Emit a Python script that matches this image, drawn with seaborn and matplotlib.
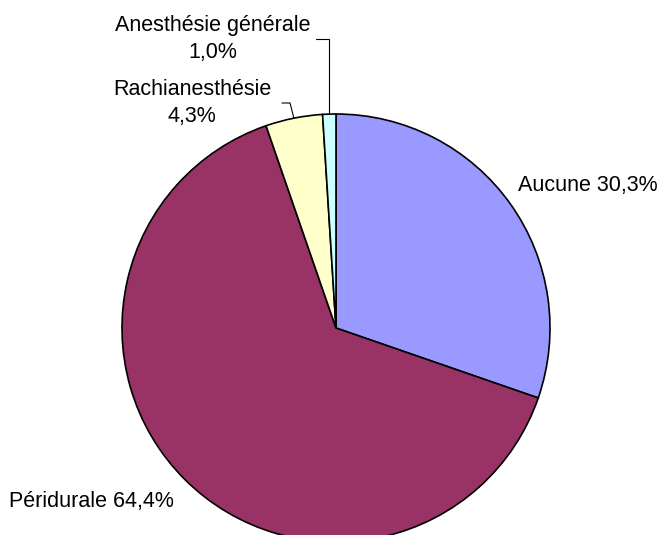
import numpy as np
import matplotlib
matplotlib.use("Agg")
import matplotlib.pyplot as plt
import seaborn as sns

# --- Data ---
categories = ["Aucune", "Péridurale", "Rachianesthésie", "Anesthésie générale"]
shares = [30.3, 64.4, 4.3, 1.0]
colors = ["#9999FF", "#993366", "#FFFFCC", "#CCFFFF"]

W, H = 659, 535
CX, CY, R = 336, H - 328, 214

sns.set_theme(style="white")
plt.rcParams['font.family'] = ['Liberation Sans', 'DejaVu Sans']

fig = plt.figure(figsize=(W / 100, H / 100), dpi=100)
ax = fig.add_axes([0, 0, 1, 1])

ax.pie(shares, colors=colors, startangle=90, counterclock=False,
       center=(CX, CY), radius=R, frame=True,
       wedgeprops=dict(edgecolor='black', linewidth=1.2))
ax.set_xlim(0, W)
ax.set_ylim(0, H)
ax.set_aspect('equal')
ax.axis('off')


def fmt(v):
    return f"{v:.1f}".replace('.', ',') + "%"


def mid_point(i):
    # point on the rim at the middle of wedge i (clockwise from top)
    cum = np.cumsum([0] + shares)
    frac = (cum[i] + cum[i + 1]) / 2 / sum(shares)
    ang = np.deg2rad(90 - 360 * frac)
    return CX + R * np.cos(ang), CY + R * np.sin(ang)


fs = 15.5
ax.text(518, H - 186, f"{categories[0]} {fmt(shares[0])}", fontsize=fs,
        ha='left', va='center', color='black')
ax.text(9, H - 501, f"{categories[1]} {fmt(shares[1])}", fontsize=fs,
        ha='left', va='center', color='black')
ax.text(192, H - 103, f"{categories[2]}\n{fmt(shares[2])}", fontsize=fs,
        ha='center', va='center', multialignment='center', linespacing=1.4, color='black')
ax.text(213, H - 39, f"{categories[3]}\n{fmt(shares[3])}", fontsize=fs,
        ha='center', va='center', multialignment='center', linespacing=1.4, color='black')

# leader lines
x2, y2 = mid_point(2)
ax.plot([282, 290, x2], [H - 103, H - 103, y2], color='black', lw=0.8)
x3, y3 = mid_point(3)
ax.plot([316, x3, x3], [H - 39, H - 39, y3], color='black', lw=0.8)

fig.savefig("out.png", dpi=100)
